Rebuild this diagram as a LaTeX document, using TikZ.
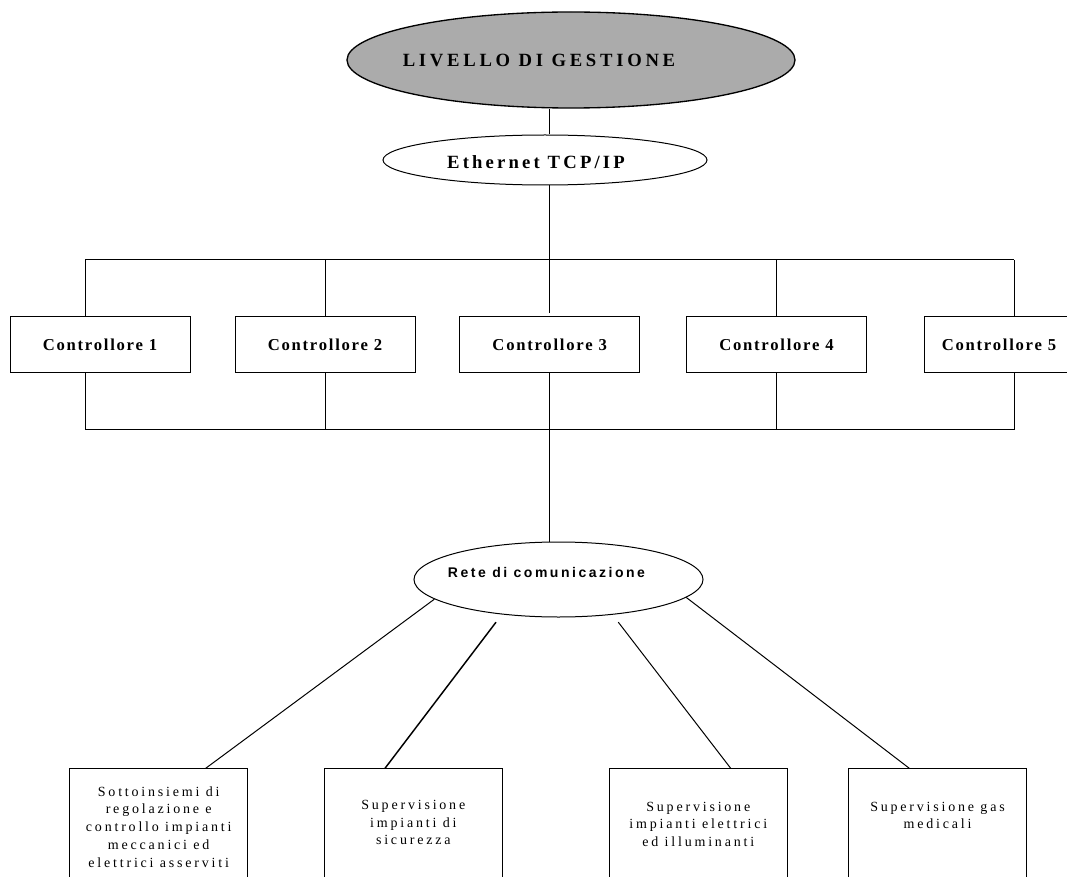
\documentclass[tikz,border=0pt]{standalone}
\usepackage{fontspec}
\setmainfont{Liberation Serif}
\newfontfamily\titlefont[LetterSpace=20]{Liberation Serif}
\newfontfamily\ethfont[LetterSpace=17]{Liberation Serif}
\newfontfamily\ctrlfont[LetterSpace=10.5]{Liberation Serif}
\newfontfamily\retefont[LetterSpace=18]{Liberation Sans}
\newfontfamily\leaffont[LetterSpace=20]{Liberation Serif}
\usepackage{tikz}
\usetikzlibrary{shapes.geometric,positioning,calc}

\newcommand{\leaftext}[2]{\parbox[t][105pt][t]{133.5pt}{\centering\leaffont\fontsize{10.5}{13.3}\selectfont\rule{0pt}{#1}#2}}

\begin{document}
\begin{tikzpicture}[
		x=0.75pt, y=-0.75pt,
		line width=0.75pt,
		head/.style={
			ellipse,
			draw=black,
			line width=1pt,
			fill=black!33,
			minimum width=336pt,
			minimum height=72pt,
			inner sep=0pt
		},
		net/.style={
			ellipse,
			draw=black,
			fill=white,
			inner sep=0pt
		},
		ctrl/.style={
			rectangle,
			draw=black,
			minimum width=135pt,
			minimum height=42pt,
			inner sep=0pt,
			font=\ctrlfont\bfseries\fontsize{12.5}{15}\selectfont
		},
		leaf/.style={
			rectangle,
			draw=black,
			inner sep=0pt,
			anchor=north
		}
		]
		\useasboundingbox (0,0) rectangle (1067,877);
		\clip (0,0) rectangle (1067,877);

		% We start by placing the blocks
		\node [head, label={[xshift=-24pt, font=\titlefont\bfseries\fontsize{14}{17}\selectfont]center:LIVELLO DI GESTIONE}]
			(gestione) at (571,60) {};

		\node [net, minimum width=243pt, minimum height=37.5pt,
			label={[xshift=-6.75pt, yshift=-1.5pt, font=\ethfont\bfseries\fontsize{14}{17}\selectfont]center:Ethernet TCP/IP}]
			(ethernet) at (545,160) {};

		\node [ctrl] (ctrl1) at (100,344.7) {Controllore 1};
		\node [ctrl] (ctrl2) at (325,344.7) {Controllore 2};
		\node [ctrl] (ctrl3) at (549.7,344.7) {Controllore 3};
		\node [ctrl] (ctrl4) at (776.5,344.7) {Controllore 4};
		\node [ctrl, minimum width=112.5pt] (ctrl5) at (999,344.7) {Controllore 5};

		\node [net, minimum width=216.75pt, minimum height=56.25pt,
			label={[xshift=-9pt, yshift=5pt, font=\retefont\bfseries\fontsize{10.5}{13}\selectfont]center:Rete di comunicazione}]
			(rete) at (558.5,579.5) {};

		\node [leaf] (regolazione) at (158.7,768.3)
		{\leaftext{20.5pt}{Sottoinsiemi di\\regolazione e\\controllo impianti\\meccanici ed\\elettrici asserviti}};
		\node [leaf] (sicurezza) at (413.3,768.3)
		{\leaftext{30.5pt}{Supervisione\\impianti di\\sicurezza}};
		\node [leaf] (elettrici) at (698.3,768.3)
		{\leaftext{31.8pt}{Supervisione\\impianti elettrici\\ed illuminanti}};
		\node [leaf] (gas) at (937.5,768.3)
		{\leaftext{31.8pt}{Supervisione gas\\medicali}};

		% bus between the controllers
		\coordinate (busTL) at (85,260);
		\coordinate (busTR) at (1014,260);
		\coordinate (busBL) at (85,429.5);
		\coordinate (busBR) at (1014,429.5);

		\draw (busTL) -- (busTR);
		\draw (busBL) -- (busBR);
		\draw (busTL) -- (busTL |- ctrl1.north);
		\draw (busBL |- ctrl1.south) -- (busBL);
		\draw (busTR) -- (busTR |- ctrl5.north);
		\draw (busBR |- ctrl5.south) -- (busBR);
		\foreach \c in {ctrl2,ctrl4}
		{
			\draw (\c.north) -- (\c.north |- busTL);
			\draw (\c.south) -- (\c.south |- busBL);
		}

		% main line
		\draw (gestione.south -| ctrl3.north) -- (ctrl3.north |- ethernet.north);
		\draw (ctrl3.north |- ethernet.south) -- ($(ctrl3.north)+(0,-3.5)$);
		\draw [line width=1.1pt] (ctrl3.south) -- (ctrl3.south |- rete.north);

		% branches to the subsystems
		\draw (rete.189) -- ($(regolazione.north)+(47,0)$);
		\draw [line width=1.1pt] ($(rete.south)+(-62.5,4.7)$) -- ($(sicurezza.north)+(-28.3,0)$);
		\draw ($(rete.south)+(59.8,4.7)$) -- ($(elettrici.north)+(32.4,0)$);
		\draw (rete.-8.5) -- ($(gas.north)+(-28.2,0)$);

		\end{tikzpicture}
\end{document}
